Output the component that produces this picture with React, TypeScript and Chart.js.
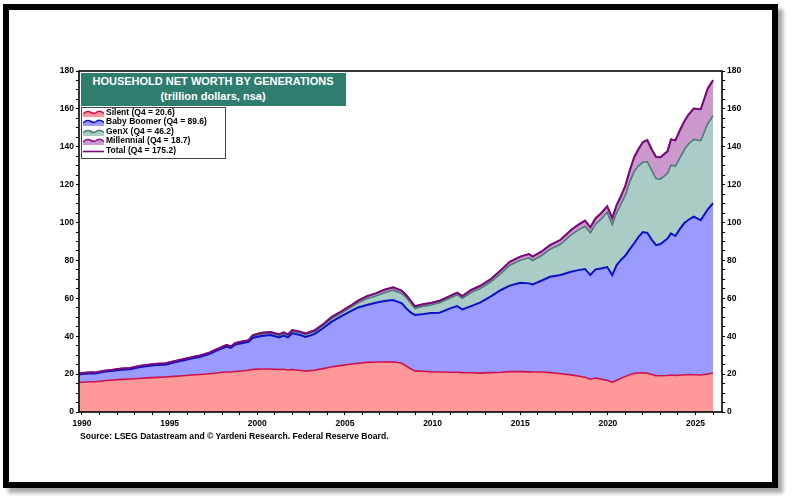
import React, { useEffect, useRef } from "react";
import { Chart, registerables } from "chart.js";

Chart.register(...registerables);

// Quarter dates (decimal years)
const dates = [
  1989.85, 1990.0, 1990.5, 1990.75, 1991.25, 1991.75, 1992.25, 1992.75, 1993.25, 1993.75,
  1994.25, 1994.75, 1995.25, 1995.75, 1996.25, 1996.75, 1997.25, 1997.75, 1998.25, 1998.5,
  1998.75, 1999.25, 1999.5, 1999.75, 2000.25, 2000.75, 2001.0, 2001.25, 2001.5, 2001.75,
  2002.0, 2002.5, 2002.75, 2003.25, 2003.75, 2004.25, 2004.75, 2005.25, 2005.75, 2006.25,
  2006.75, 2007.25, 2007.75, 2008.25, 2008.5, 2008.75, 2009.0, 2009.5, 2009.9, 2010.4,
  2011.0, 2011.4, 2011.7, 2012.2, 2012.7, 2013.3, 2013.9, 2014.4, 2015.0, 2015.5,
  2015.7, 2016.2, 2016.7, 2017.3, 2017.9, 2018.3, 2018.7, 2019.0, 2019.3, 2019.6,
  2019.96, 2020.25, 2020.5, 2020.75, 2021.0, 2021.25, 2021.5, 2021.75, 2022.0, 2022.25,
  2022.5, 2022.75, 2023.0, 2023.4, 2023.6, 2023.85, 2024.1, 2024.35, 2024.6, 2024.9,
  2025.3, 2025.7, 2026.0,
];

const silent = [
  15.6, 15.7, 16.0, 16.0, 16.5, 16.9, 17.2, 17.4, 17.7, 18.0,
  18.3, 18.5, 18.8, 19.1, 19.5, 19.8, 20.2, 20.7, 21.1, 21.1,
  21.4, 21.8, 22.0, 22.5, 22.7, 22.7, 22.6, 22.4, 22.6, 22.2,
  22.4, 21.9, 21.6, 22.0, 22.9, 23.9, 24.5, 25.2, 25.7, 26.2,
  26.4, 26.4, 26.5, 25.7, 24.3, 22.8, 21.7, 21.5, 21.2, 21.1,
  21.0, 21.0, 20.8, 20.7, 20.5, 20.8, 21.0, 21.3, 21.3, 21.2,
  21.1, 21.1, 20.8, 20.2, 19.6, 19.0, 18.3, 17.3, 17.9, 17.4,
  16.7, 15.7, 16.8, 17.8, 18.8, 19.6, 20.4, 20.6, 20.7, 20.5,
  19.8, 19.1, 19.1, 19.3, 19.5, 19.3, 19.5, 19.5, 19.8, 19.7,
  19.5, 20.1, 20.6,
];

const babyBoomer = [
  4.2, 4.3, 4.5, 4.3, 4.8, 4.9, 5.1, 5.2, 5.9, 6.3,
  6.5, 6.5, 7.3, 8.1, 8.7, 9.4, 10.4, 12.0, 13.5, 12.7,
  14.2, 14.8, 15.0, 16.7, 17.4, 17.9, 17.4, 17.0, 17.8, 17.2,
  19.1, 18.6, 18.0, 19.1, 21.3, 23.8, 25.8, 27.7, 29.5, 30.3,
  31.3, 32.2, 32.6, 31.7, 30.4, 29.8, 29.5, 30.2, 31.1, 31.3,
  33.7, 34.9, 33.4, 35.2, 37.2, 40.1, 43.4, 45.4, 46.9, 46.7,
  46.2, 48.2, 50.6, 52.1, 54.4, 55.9, 57.2, 55.0, 57.4, 58.4,
  59.8, 56.6, 60.8, 62.5, 63.8, 66.4, 68.6, 71.9, 74.3, 74.1,
  71.2, 69.0, 69.6, 72.2, 74.8, 73.6, 77.0, 80.1, 81.7, 83.4,
  81.8, 86.9, 89.6,
];

const genX = [
  0.3, 0.3, 0.3, 0.3, 0.3, 0.3, 0.3, 0.3, 0.4, 0.4,
  0.4, 0.4, 0.4, 0.4, 0.4, 0.4, 0.4, 0.4, 0.5, 0.5,
  0.6, 0.6, 0.6, 0.8, 1.0, 1.0, 1.0, 1.0, 1.0, 1.0,
  1.1, 1.1, 1.2, 1.2, 1.3, 1.6, 1.6, 1.8, 2.4, 3.3,
  3.5, 4.4, 5.2, 5.1, 5.6, 4.9, 3.4, 4.2, 4.2, 5.3,
  5.5, 6.0, 5.8, 7.2, 7.4, 7.6, 8.8, 10.8, 11.9, 13.5,
  12.7, 13.2, 14.5, 16.2, 19.5, 21.1, 22.5, 22.3, 23.9, 25.8,
  28.9, 26.6, 27.6, 29.5, 31.9, 35.5, 38.0, 37.5, 36.8, 37.5,
  36.5, 35.1, 34.2, 34.5, 36.0, 36.9, 37.5, 38.7, 40.0, 40.8,
  41.9, 45.3, 46.2,
];

const millennial = [
  0.2, 0.3, 0.2, 0.2, 0.2, 0.2, 0.3, 0.3, 0.3, 0.3,
  0.3, 0.3, 0.3, 0.3, 0.3, 0.3, 0.3, 0.3, 0.3, 0.3,
  0.3, 0.3, 0.3, 0.6, 0.7, 0.6, 0.6, 0.6, 0.6, 0.6,
  0.6, 0.7, 0.7, 0.7, 0.8, 0.9, 1.0, 1.0, 1.2, 1.3,
  1.4, 1.5, 1.5, 1.5, 1.4, 1.3, 1.2, 1.1, 1.0, 1.0,
  1.1, 1.1, 1.2, 1.3, 1.4, 1.5, 1.7, 1.8, 1.9, 2.0,
  2.0, 2.1, 2.2, 2.4, 2.6, 2.8, 3.0, 2.9, 3.1, 3.2,
  3.2, 3.5, 4.0, 4.2, 5.0, 6.0, 7.5, 8.8, 10.7, 11.4,
  11.1, 11.4, 11.6, 11.6, 13.6, 13.6, 14.6, 14.9, 15.5, 16.3,
  16.6, 18.5, 18.7,
];

const total = [
  20.3, 20.6, 21.0, 20.8, 21.8, 22.3, 22.9, 23.2, 24.3, 25.0,
  25.5, 25.7, 26.8, 27.9, 28.9, 29.9, 31.3, 33.4, 35.4, 34.6,
  36.5, 37.5, 37.9, 40.6, 41.8, 42.2, 41.6, 41.0, 42.0, 41.0,
  43.2, 42.3, 41.5, 43.0, 46.3, 50.2, 52.9, 55.7, 58.8, 61.1,
  62.6, 64.5, 65.8, 64.0, 61.7, 58.8, 55.8, 57.0, 57.5, 58.7,
  61.3, 63.0, 61.2, 64.4, 66.5, 70.0, 74.9, 79.3, 82.0, 83.4,
  82.0, 84.6, 88.1, 90.9, 96.1, 98.8, 101.0, 97.5, 102.3, 104.8,
  108.6, 102.4, 109.2, 114.0, 119.5, 127.5, 134.5, 138.8, 142.5, 143.5,
  138.6, 134.6, 134.5, 137.6, 143.9, 143.4, 148.6, 153.2, 157.0, 160.2,
  159.8, 170.8, 175.2,
];

const xTickYears = [1990, 1995, 2000, 2005, 2010, 2015, 2020, 2025];
const yTickValues = [0, 20, 40, 60, 80, 100, 120, 140, 160, 180];

const titleLines = ["HOUSEHOLD NET WORTH BY GENERATIONS", "(trillion dollars, nsa)"];
const legendLabels = [
  "Silent (Q4 = 20.6)",
  "Baby Boomer (Q4 = 89.6)",
  "GenX (Q4 = 46.2)",
  "Millennial (Q4 = 18.7)",
  "Total (Q4 = 175.2)",
];
const sourceText = "Source: LSEG Datastream and \u00A9 Yardeni Research. Federal Reserve Board.";

const FONT = "'Liberation Sans', Arial, Helvetica, sans-serif";

const styles = [
  { line: "#D0104A", fill: "#FF9999", area: true },
  { line: "#0A10CC", fill: "#9A9AFF", area: true },
  { line: "#4C7C76", fill: "#A9CCC6", area: true },
  { line: "#8A108A", fill: "#CC99CC", area: true },
  { line: "#7A0A7A", fill: "none", area: false },
];

const framePlugin = {
  id: "plotFrame",
  afterDatasetsDraw(chart: any) {
    const { ctx, chartArea: a } = chart;
    ctx.save();
    ctx.strokeStyle = "#000";
    ctx.lineWidth = 1.6;
    ctx.strokeRect(a.left, a.top, a.right - a.left, a.bottom - a.top);
    ctx.restore();
  },
};

function LegendIcon({ line, fill, area }: { line: string; fill: string; area: boolean }) {
  const wave = "M0,5 Q4,1 8,3.5 Q11,5.5 14,3 Q17,1 21,4.5";
  return (
    <svg width={21} height={8} style={{ position: "absolute", left: 1, top: 1 }}>
      {area ? (
        <>
          <path d={wave + " L21,8 L0,8 Z"} fill={fill} />
          <path d={wave} stroke={line} strokeWidth={1.6} fill="none" />
        </>
      ) : (
        <line x1={0} y1={4.5} x2={21} y2={4.5} stroke={line} strokeWidth={1.6} />
      )}
    </svg>
  );
}

export default function App() {
  const canvasRef = useRef<HTMLCanvasElement | null>(null);

  useEffect(() => {
    if (!canvasRef.current) return;
    const tickFont = { family: FONT, size: 8.5, weight: "bold" as const };
    const yAxisCommon = (position: "left" | "right", width: number) => ({
      type: "linear" as const,
      position,
      min: 0,
      max: 180,
      stacked: true,
      border: { display: false },
      grid: { drawOnChartArea: false, drawTicks: true, tickLength: 3, color: "#000", lineWidth: 1 },
      ticks: {
        stepSize: 5,
        autoSkip: false,
        padding: 2,
        color: "#000",
        font: tickFont,
        callback: (v: any) => (yTickValues.includes(Number(v)) ? String(v) : ""),
      },
      afterFit: (scale: any) => {
        scale.width = width;
      },
    });

    const chart = new Chart(canvasRef.current, {
      type: "line",
      data: {
        labels: dates,
        datasets: [
          {
            label: "Silent",
            data: silent,
            stack: "gen",
            fill: "origin",
            backgroundColor: styles[0].fill,
            borderColor: styles[0].line,
            borderWidth: 1.6,
            pointRadius: 0,
            tension: 0,
          },
          {
            label: "Baby Boomer",
            data: babyBoomer,
            stack: "gen",
            fill: "-1",
            backgroundColor: styles[1].fill,
            borderColor: styles[1].line,
            borderWidth: 2,
            pointRadius: 0,
            tension: 0,
          },
          {
            label: "GenX",
            data: genX,
            stack: "gen",
            fill: "-1",
            backgroundColor: styles[2].fill,
            borderColor: styles[2].line,
            borderWidth: 1.6,
            pointRadius: 0,
            tension: 0,
          },
          {
            label: "Millennial",
            data: millennial,
            stack: "gen",
            fill: "-1",
            backgroundColor: styles[3].fill,
            borderColor: styles[3].line,
            borderWidth: 1.5,
            pointRadius: 0,
            tension: 0,
          },
          {
            label: "Total",
            data: total,
            stack: "total",
            fill: false,
            borderColor: styles[4].line,
            borderWidth: 2,
            pointRadius: 0,
            tension: 0,
            order: -1,
          },
        ],
      },
      options: {
        responsive: false,
        animation: false,
        maintainAspectRatio: false,
        layout: { padding: { top: 71, left: 0, right: 0, bottom: 0 } },
        plugins: {
          legend: { display: false },
          title: { display: false },
          tooltip: { enabled: false },
        },
        scales: {
          x: {
            type: "linear",
            min: 1989.83,
            max: 2026.51,
            border: { display: false },
            grid: { drawOnChartArea: false, drawTicks: true, tickLength: 3, color: "#000", lineWidth: 1 },
            ticks: {
              stepSize: 1,
              includeBounds: false,
              autoSkip: false,
              maxRotation: 0,
              minRotation: 0,
              padding: 4,
              color: "#000",
              font: tickFont,
              callback: (v: any) => {
                const r = Math.round(Number(v));
                return xTickYears.includes(r) ? String(r) : "";
              },
            },
            afterFit: (scale: any) => {
              scale.height = 90;
            },
          },
          y: yAxisCommon("left", 79),
          y2: yAxisCommon("right", 70),
        },
      },
      plugins: [framePlugin],
    } as any);

    return () => chart.destroy();
  }, []);

  return (
    <div style={{ position: "absolute", left: 0, top: 0, width: 792, height: 502, background: "#fff", overflow: "hidden" }}>
      <div
        style={{
          position: "absolute",
          left: 3,
          top: 4,
          width: 775,
          height: 484,
          boxSizing: "border-box",
          border: "6.5px solid #000",
          background: "#fff",
          boxShadow: "5px 5px 4px rgba(0,0,0,0.35)",
        }}
      />
      <canvas
        ref={canvasRef}
        width={792}
        height={502}
        style={{ position: "absolute", left: 0, top: 0, width: 792, height: 502 }}
      />
      <div
        style={{
          position: "absolute",
          left: 80.5,
          top: 72.5,
          width: 265,
          height: 33,
          background: "#2F7D6E",
          color: "#fff",
          fontFamily: FONT,
          fontWeight: "bold",
          fontSize: 11,
          lineHeight: "15px",
          textAlign: "center",
          paddingTop: 1,
          boxSizing: "border-box",
        }}
      >
        {titleLines.map((t) => (
          <div key={t}>{t}</div>
        ))}
      </div>
      <div
        style={{
          position: "absolute",
          left: 80.5,
          top: 106.5,
          width: 145,
          height: 52.5,
          boxSizing: "border-box",
          border: "1.5px solid #444",
          background: "#fff",
          fontFamily: FONT,
          fontWeight: "bold",
          fontSize: 8.5,
          color: "#000",
        }}
      >
        {legendLabels.map((t, i) => (
          <div key={t} style={{ position: "relative", height: 9.5, lineHeight: "9.5px", paddingLeft: 24.5, whiteSpace: "nowrap" }}>
            <LegendIcon line={styles[i].line} fill={styles[i].fill} area={styles[i].area} />
            {t}
          </div>
        ))}
      </div>
      <div
        style={{
          position: "absolute",
          left: 80,
          top: 431,
          fontFamily: FONT,
          fontWeight: "bold",
          fontSize: 8.6,
          lineHeight: "11px",
          color: "#000",
          whiteSpace: "nowrap",
        }}
      >
        {sourceText}
      </div>
    </div>
  );
}
